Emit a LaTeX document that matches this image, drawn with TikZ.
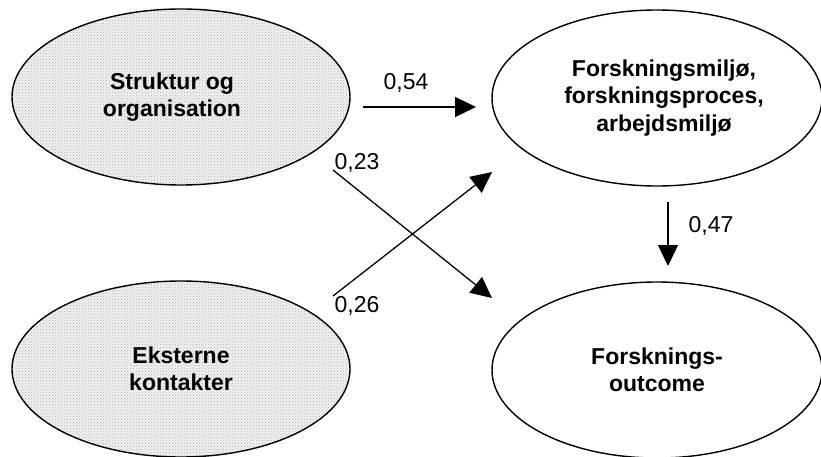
\documentclass[tikz,border=0pt]{standalone}
\usepackage{fontspec}
\setmainfont{Liberation Sans}
\usetikzlibrary{arrows.meta,patterns,shapes.geometric}
\begin{document}
\begin{tikzpicture}[x=1pt,y=-1pt,
  latent/.style={ellipse,draw=black,line width=1.4pt,minimum width=338pt,minimum height=176pt,
    inner sep=0pt,align=center,font=\fontsize{23}{27.5}\selectfont\bfseries},
  dotted fill/.style={preaction={fill=gray!10},pattern=crosshatch dots,pattern color=gray!65},
  link/.style={line width=1.3pt,-{Triangle[length=21pt,width=20pt]}},
  coef/.style={font=\fontsize{23}{27.5}\selectfont,inner sep=0pt}]
\useasboundingbox (0,0) rectangle (821,457);
% latent constructs
\node[latent,dotted fill] (so) at (181,97) {Struktur og\hspace*{18pt}\\organisation\hspace*{18pt}};
\node[latent,dotted fill] (ek) at (181,369) {Eksterne\\kontakter};
\node[latent,minimum width=330pt] (fm) at (657,98) {\hspace*{14pt}Forskningsmilj\o,\\\hspace*{14pt}forskningsproces,\\\hspace*{14pt}arbejdsmilj\o};
\node[latent,minimum width=330pt] (fo) at (657,370) {Forsknings-\\outcome};
% path end points
\coordinate (a1s) at (363,107); \coordinate (a1e) at (476,107);
\coordinate (a2s) at (668,202); \coordinate (a2e) at (668,266);
\coordinate (a3s) at (333,170); \coordinate (a3e) at (492,298);
\coordinate (a4s) at (333,296); \coordinate (a4e) at (492,172);
% structural paths
\draw[link] (a1s) -- (a1e);
\draw[link] (a2s) -- (a2e);
\draw[link] (a3s) -- (a3e);
\draw[link] (a4s) -- (a4e);
% path coefficients
\node[coef] (c1) at (406,83) {0,54};
\node[coef] (c2) at (711,226) {0,47};
\node[coef] (c3) at (357,163) {0,23};
\node[coef] (c4) at (357,306) {0,26};
\end{tikzpicture}
\end{document}
